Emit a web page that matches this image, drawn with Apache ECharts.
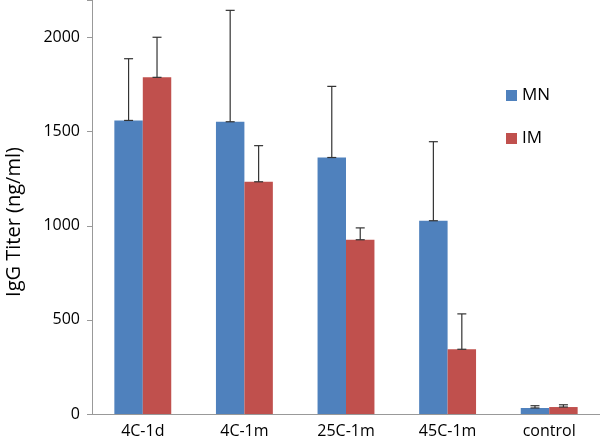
<!DOCTYPE html>
<html><head><meta charset="utf-8">
<script src="https://cdn.jsdelivr.net/npm/echarts@6/dist/echarts.min.js"></script>
<style>html,body{margin:0;padding:0;background:#fff}#c{width:600px;height:436px}</style>
</head><body><div id="c"></div>
<script>
const categories = ['4C-1d', '4C-1m', '25C-1m', '45C-1m', 'control'];
const mnValues = [1560, 1553, 1363, 1027, 32];
const mnErrors = [328, 592, 378, 420, 12];
const imValues = [1789, 1234, 926, 344, 37];
const imErrors = [213, 192, 63, 188, 12];
const yTicks = [0, 500, 1000, 1500, 2000];
const yTitle = 'IgG Titer (ng/ml)';

const FONT = 'Open Sans';
const chart = echarts.init(document.getElementById('c'), null, {renderer: 'canvas'});

function errSeries(name, vals, errs, side) {
  return {
    type: 'custom', name: name + '-err', silent: true, z: 5,
    data: vals.map((v, i) => [i, v, v + errs[i]]),
    renderItem: function (params, api) {
      const i = api.value(0);
      const band = api.size([1, 0])[0];
      const off = side * band * 0.14;
      const base = api.coord([i, api.value(1)]);
      const top = api.coord([i, api.value(2)]);
      const x = base[0] + off;
      const cap = 4.5;
      const style = {stroke: '#333', lineWidth: 1.2};
      return {type: 'group', children: [
        {type: 'line', shape: {x1: x, y1: base[1], x2: x, y2: top[1]}, style: style},
        {type: 'line', shape: {x1: x - cap, y1: top[1], x2: x + cap, y2: top[1]}, style: style},
        {type: 'line', shape: {x1: x - cap, y1: base[1], x2: x + cap, y2: base[1]}, style: style}
      ]};
    }
  };
}

chart.setOption({
  animation: false,
  textStyle: {fontFamily: FONT},
  grid: {left: 92, right: 0, top: 0, bottom: 22, containLabel: false, outerBoundsMode: 'none'},
  graphic: [{
    type: 'text', x: 14, y: 222, rotation: Math.PI / 2,
    style: {text: yTitle, fontSize: 20, fill: '#000', fontFamily: FONT,
      align: 'center', verticalAlign: 'middle'}
  }],
  legend: {
    data: ['MN', 'IM'], orient: 'vertical', left: 501, top: 82,
    itemWidth: 11, itemHeight: 11, itemGap: 26, icon: 'rect',
    textStyle: {fontSize: 17, color: '#000', fontFamily: FONT}
  },
  xAxis: {
    type: 'category', data: categories,
    axisLine: {lineStyle: {color: '#999', width: 1}},
    axisTick: {show: false},
    axisLabel: {fontSize: 16, color: '#000', margin: 9, fontFamily: FONT}
  },
  yAxis: {
    type: 'value', min: 0, max: 2200, interval: 500,
    splitLine: {show: false},
    axisLine: {show: true, lineStyle: {color: '#999', width: 1}},
    axisTick: {show: true, length: 5, lineStyle: {color: '#999'}},
    axisLabel: {fontSize: 16, color: '#000', margin: 12, fontFamily: FONT,
      formatter: v => yTicks.includes(v) ? String(v) : ''}
  },
  series: [
    {name: 'MN', type: 'bar', data: mnValues, barWidth: '28%', barGap: '0%',
     itemStyle: {color: '#4F81BD'}},
    {name: 'IM', type: 'bar', data: imValues, barWidth: '28%', barGap: '0%',
     itemStyle: {color: '#C0504D'}},
    errSeries('MN', mnValues, mnErrors, -1),
    errSeries('IM', imValues, imErrors, 1)
  ]
});
</script></body></html>
